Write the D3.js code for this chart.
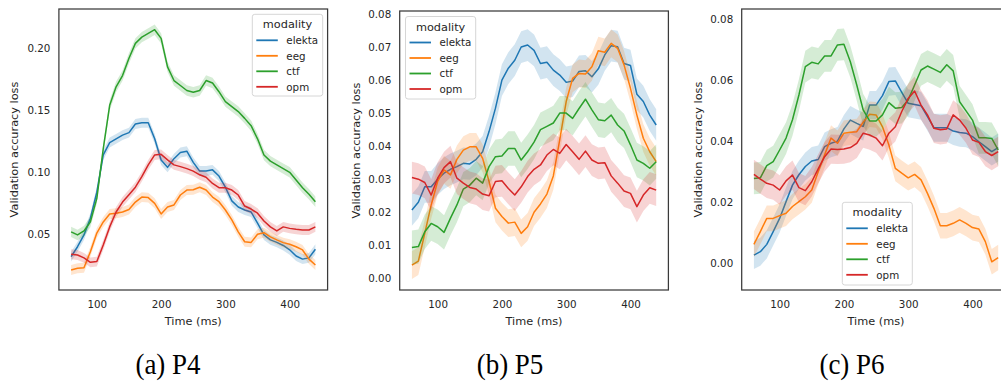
<!DOCTYPE html>
<html>
<head>
<meta charset="utf-8">
<script src="https://cdn.jsdelivr.net/npm/d3@7"></script>
<style>
  html, body { margin: 0; padding: 0; background: #fff; }
  svg { display: block; }
</style>
</head>
<body>
<svg id="chart" width="1001" height="383"></svg>
<script>
// ---------------- DATA ----------------
const times = [60,70,80,90,100,110,120,130,140,150,160,170,180,190,200,210,220,230,240,250,
               260,270,280,290,300,310,320,330,340,350,360,370,380,390,400,410,420,430,440];
const modalities = ["elekta", "eeg", "ctf", "opm"];
const xTicks = [100, 200, 300, 400];

// P4
const p4_elekta = [0.032,0.040,0.0495,0.063,0.084,0.114,0.124,0.127,0.130,0.132,0.139,0.140,0.140,0.127,0.110,0.104,0.111,0.116,0.117,0.108,0.101,0.101,0.102,0.097,0.088,0.077,0.072,0.0696,0.068,0.059,0.0495,0.0455,0.0435,0.041,0.0375,0.0325,0.030,0.031,0.038];
const p4_eeg    = [0.0212,0.0226,0.023,0.036,0.051,0.060,0.0664,0.067,0.068,0.070,0.076,0.080,0.0796,0.075,0.0664,0.072,0.0737,0.0817,0.0857,0.086,0.088,0.0857,0.080,0.0763,0.0696,0.0616,0.052,0.044,0.0435,0.050,0.0513,0.048,0.0455,0.0433,0.042,0.040,0.0374,0.030,0.0253];
const p4_ctf    = [0.052,0.0495,0.0527,0.060,0.079,0.119,0.154,0.169,0.178,0.192,0.204,0.209,0.212,0.215,0.208,0.185,0.174,0.170,0.166,0.1645,0.166,0.174,0.172,0.165,0.157,0.153,0.149,0.1435,0.1376,0.127,0.114,0.109,0.106,0.103,0.100,0.0938,0.0876,0.0823,0.0763];
const p4_opm    = [0.0339,0.0333,0.031,0.0274,0.028,0.0414,0.056,0.068,0.076,0.082,0.088,0.0965,0.106,0.114,0.1145,0.110,0.106,0.1046,0.103,0.101,0.098,0.096,0.091,0.0876,0.0876,0.0857,0.0817,0.0728,0.0704,0.067,0.0607,0.056,0.0527,0.056,0.0548,0.054,0.0535,0.0535,0.056];
const p4_band   = [0.0040, 0.0040, 0.0042, 0.0040];
const p4_yTicks = [0.05, 0.10, 0.15, 0.20];

// P5
const p5_elekta = [0.0207,0.023,0.0277,0.0277,0.030,0.0318,0.033,0.0338,0.0348,0.0346,0.036,0.0383,0.0444,0.0515,0.060,0.0636,0.066,0.070,0.0706,0.069,0.065,0.0654,0.063,0.0615,0.0593,0.0597,0.0626,0.0628,0.061,0.0634,0.0676,0.0704,0.0701,0.065,0.0644,0.0557,0.0535,0.0494,0.0464];
const p5_eeg    = [0.004,0.0052,0.0136,0.0222,0.0293,0.0328,0.0313,0.036,0.0388,0.0398,0.0398,0.0363,0.0293,0.0212,0.0187,0.0167,0.017,0.0136,0.0156,0.020,0.0225,0.0255,0.031,0.042,0.0535,0.0605,0.062,0.0618,0.064,0.0689,0.0684,0.0711,0.0696,0.0646,0.0575,0.0494,0.0424,0.0383,0.0353];
const p5_ctf    = [0.0093,0.0096,0.0141,0.0166,0.0156,0.0139,0.0182,0.0222,0.027,0.0282,0.0303,0.0288,0.0338,0.0368,0.037,0.0393,0.0393,0.0358,0.0383,0.0412,0.045,0.046,0.047,0.050,0.050,0.0484,0.0514,0.0542,0.051,0.048,0.0477,0.0494,0.0464,0.0446,0.0404,0.0358,0.0348,0.0333,0.0353];
const p5_opm    = [0.0305,0.030,0.029,0.0252,0.0303,0.0335,0.0353,0.0303,0.0288,0.0275,0.027,0.0255,0.025,0.0293,0.0295,0.0272,0.0252,0.0277,0.0308,0.033,0.0343,0.0373,0.039,0.0378,0.0405,0.0383,0.036,0.0385,0.0358,0.0348,0.035,0.031,0.0288,0.0264,0.0257,0.0217,0.0252,0.0274,0.0267];
const p5_band   = [0.0048, 0.0042, 0.0052, 0.0048];
const p5_yTicks = [0.00, 0.01, 0.02, 0.03, 0.04, 0.05, 0.06, 0.07, 0.08];

// P6
const p6_elekta = [0.0027,0.0038,0.0062,0.0104,0.0147,0.0202,0.0256,0.029,0.0317,0.0335,0.034,0.0382,0.0393,0.040,0.044,0.0469,0.0458,0.0448,0.0518,0.0518,0.0549,0.0595,0.0597,0.056,0.0524,0.052,0.0516,0.048,0.0444,0.0444,0.0444,0.0433,0.0428,0.0426,0.0415,0.0398,0.0382,0.0366,0.0379];
const p6_eeg    = [0.0062,0.0104,0.0147,0.0147,0.0156,0.0164,0.0186,0.0202,0.0218,0.024,0.030,0.0355,0.041,0.0393,0.0426,0.0429,0.0431,0.0462,0.0488,0.0486,0.0447,0.0387,0.0311,0.0295,0.028,0.0291,0.0273,0.0229,0.018,0.0123,0.0123,0.0131,0.0142,0.0131,0.0117,0.0112,0.0071,0.0005,0.0019];
const p6_ctf    = [0.0278,0.028,0.032,0.0333,0.0371,0.041,0.047,0.0551,0.0644,0.0658,0.0653,0.0679,0.0679,0.0715,0.0717,0.066,0.0584,0.0502,0.0466,0.0466,0.0486,0.0526,0.0508,0.051,0.0535,0.0584,0.0633,0.0646,0.0636,0.0625,0.065,0.063,0.0529,0.0499,0.0469,0.0411,0.0411,0.0409,0.0371];
const p6_opm    = [0.0291,0.0276,0.0262,0.0256,0.024,0.027,0.0289,0.0248,0.0238,0.0267,0.0309,0.0349,0.0374,0.0373,0.0374,0.0379,0.0393,0.0426,0.042,0.041,0.0385,0.0426,0.0447,0.0497,0.054,0.0564,0.0518,0.0486,0.0442,0.0437,0.044,0.0486,0.0469,0.0442,0.0404,0.0396,0.0366,0.0353,0.0366];
const p6_band   = [0.0046, 0.0042, 0.0052, 0.0048];
const p6_yTicks = [0.00, 0.02, 0.04, 0.06, 0.08];

const captions = ["(a) P4", "(b) P5", "(c) P6"];

// ---------------- LAYOUT / STYLE ----------------
const colors = ["#1f77b4", "#ff7f0e", "#2ca02c", "#d62728"];
const FONT = "'DejaVu Sans', sans-serif";
const TEXT = "#262626";

const panels = [
  { series: [p4_elekta, p4_eeg, p4_ctf, p4_opm], band: p4_band, yTicks: p4_yTicks,
    left: 58.9, right: 327.6, top: 9, bottom: 290, yDomain: [0.0051, 0.2317],
    legend: { x: 252.3, y: 14.3, w: 70.4, h: 81.7 }, ylabX: 15, capX: 168 },
  { series: [p5_elekta, p5_eeg, p5_ctf, p5_opm], band: p5_band, yTicks: p5_yTicks,
    left: 399.7, right: 668.4, top: 11, bottom: 290, yDomain: [-0.00354, 0.0809],
    legend: { x: 405.5, y: 16.5, w: 70.2, h: 82.5 }, ylabX: 357, capX: 510 },
  { series: [p6_elekta, p6_eeg, p6_ctf, p6_opm], band: p6_band, yTicks: p6_yTicks,
    left: 741.7, right: 1010.4, top: 9, bottom: 290, yDomain: [-0.00874, 0.08327],
    legend: { x: 842.3, y: 202.3, w: 70, h: 82.7 }, ylabX: 699, capX: 852 }
];

const svg = d3.select("#chart");
const defs = svg.append("defs");

panels.forEach((p, pi) => {
  const x = d3.scaleLinear().domain([41, 459]).range([p.left, p.right]);
  const y = d3.scaleLinear().domain(p.yDomain).range([p.bottom, p.top]);

  const clipId = "clip" + pi;
  defs.append("clipPath").attr("id", clipId)
    .append("rect").attr("x", p.left).attr("y", p.top)
    .attr("width", p.right - p.left).attr("height", p.bottom - p.top);

  const g = svg.append("g");
  const plot = g.append("g").attr("clip-path", `url(#${clipId})`);

  p.series.forEach((vals, si) => {
    const pts = times.map((t, i) => ({ t, v: vals[i] }));
    const area = d3.area()
      .x(d => x(d.t))
      .y0(d => y(d.v - p.band[si]))
      .y1(d => y(d.v + p.band[si]));
    const line = d3.line().x(d => x(d.t)).y(d => y(d.v));
    plot.append("path").datum(pts).attr("d", line)
      .attr("fill", "none").attr("stroke", colors[si])
      .attr("stroke-width", 1.5).attr("stroke-linejoin", "round");
    plot.append("path").datum(pts).attr("d", area)
      .attr("fill", colors[si]).attr("fill-opacity", 0.2).attr("stroke", "none");
  });

  // axes
  const yAxis = d3.axisLeft(y).tickValues(p.yTicks).tickFormat(d3.format(".2f"))
    .tickSize(0).tickPadding(8.5);
  const ya = g.append("g").attr("transform", `translate(${p.left},0)`).call(yAxis);
  ya.select(".domain").remove();
  ya.selectAll("text").attr("font-family", FONT).attr("font-size", 10.3).attr("fill", TEXT);

  const xAxis = d3.axisBottom(x).tickValues(xTicks).tickSize(0).tickPadding(10.5);
  const xa = g.append("g").attr("transform", `translate(0,${p.bottom})`).call(xAxis);
  xa.select(".domain").remove();
  xa.selectAll("text").attr("font-family", FONT).attr("font-size", 10.3).attr("fill", TEXT);

  // frame
  g.append("rect").attr("x", p.left).attr("y", p.top)
    .attr("width", p.right - p.left).attr("height", p.bottom - p.top)
    .attr("fill", "none").attr("stroke", "#3a3a3a").attr("stroke-width", 1.25);

  // axis labels
  g.append("text").attr("x", (p.left + p.right) / 2).attr("y", 324.5)
    .attr("text-anchor", "middle").attr("font-family", FONT).attr("font-size", 11.3)
    .attr("fill", TEXT).text("Time (ms)");
  g.append("text")
    .attr("transform", `translate(${p.ylabX + 3},${(p.top + p.bottom) / 2}) rotate(-90)`)
    .attr("text-anchor", "middle").attr("font-family", FONT).attr("font-size", 11.3)
    .attr("fill", TEXT).text("Validation accuracy loss");

  // legend
  const L = p.legend;
  const lg = g.append("g");
  lg.append("rect").attr("x", L.x).attr("y", L.y).attr("width", L.w).attr("height", L.h)
    .attr("rx", 2.5).attr("fill", "#fff").attr("fill-opacity", 0.8)
    .attr("stroke", "#d6d6d6").attr("stroke-width", 1);
  lg.append("text").attr("x", L.x + L.w / 2).attr("y", L.y + 10 + 4)
    .attr("text-anchor", "middle").attr("font-family", FONT).attr("font-size", 11.3)
    .attr("fill", TEXT).text("modality");
  modalities.forEach((m, i) => {
    const cy = L.y + 26 + i * 15.5;
    lg.append("line").attr("x1", L.x + 4).attr("x2", L.x + 25.5)
      .attr("y1", cy).attr("y2", cy).attr("stroke", colors[i]).attr("stroke-width", 1.8);
    lg.append("text").attr("x", L.x + 34).attr("y", cy + 3.7)
      .attr("font-family", FONT).attr("font-size", 10.3).attr("fill", TEXT).text(m);
  });

  // caption (slightly condensed serif, as in the reference)
  svg.append("text")
    .attr("transform", `translate(${p.capX},374) scale(0.93,1)`)
    .attr("text-anchor", "middle").attr("font-family", "'Liberation Serif', 'Times New Roman', serif")
    .attr("font-size", 29).attr("fill", "#000").text(captions[pi]);
});
</script>
</body>
</html>
